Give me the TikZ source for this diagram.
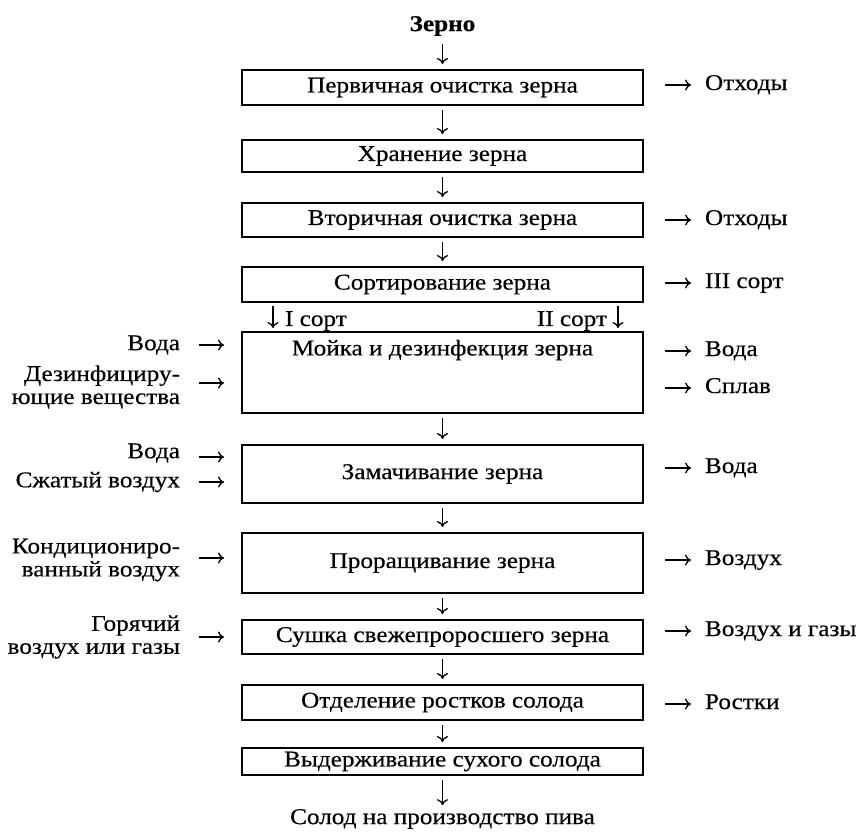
\documentclass[tikz,border=0pt]{standalone}
\usepackage{fontspec}
\setmainfont[FakeStretch=1.12, FakeBold=0.4]{Liberation Serif}
\usetikzlibrary{arrows.meta}
\begin{document}
\begin{tikzpicture}[x=1pt,y=-1pt,
  every node/.style={inner sep=0pt, outer sep=0pt},
  font=\fontsize{22.5}{23}\selectfont,
  box/.style={draw, line width=1.8pt, minimum width=401pt},
  flow/.style={line width=1.3pt, -{Computer Modern Rightarrow[length=6pt,width=11pt]}},
  down/.style={flow, shorten <=5pt, shorten >=6pt},
  outlbl/.style={anchor=west, text height=15pt, text depth=5pt},
  inlbl/.style={anchor=east, align=right},
]
\useasboundingbox (0,0) rectangle (856,831);

% main chain
\node[font=\fontsize{22.5}{23}\selectfont\bfseries] (zerno) at (442.5,26) {Зерно};
\node[box, minimum height=35pt] (b1) at (442.5,87.5) {Первичная очистка зерна};
\node[box, minimum height=32pt] (b2) at (442.5,156) {Хранение зерна};
\node[box, minimum height=34pt] (b3) at (442.5,220) {Вторичная очистка зерна};
\node[box, minimum height=35pt] (b4) at (442.5,284.5) {Сортирование зерна};
\node[box, minimum height=81pt] (b5) at (442.5,372.5) {};
\node (t5) at (442.5,350) {Мойка и дезинфекция зерна};
\node[box, minimum height=58pt] (b6) at (442.5,474) {Замачивание зерна};
\node[box, minimum height=60pt] (b7) at (442.5,563) {Проращивание зерна};
\node[box, minimum height=34pt] (b8) at (442.5,637) {Сушка свежепроросшего зерна};
\node[box, minimum height=35pt] (b9) at (442.5,702.5) {Отделение ростков солода};
\node[box, minimum height=27pt] (b10) at (442.5,761.5) {Выдерживание сухого солода};
\node (solod) at (442.5,819) {Солод на производство пива};

\draw[down, shorten <=8pt] (zerno) -- (b1);
\draw[down] (b1) -- (b2);
\draw[down] (b2) -- (b3);
\draw[down] (b3) -- (b4);
\draw[down] (b5) -- (b6);
\draw[down] (b6) -- (b7);
\draw[down] (b7) -- (b8);
\draw[down] (b8) -- (b9);
\draw[down] (b9) -- (b10);
\draw[down, shorten >=4pt] (b10) -- (solod);

% sorting branches
\coordinate (s1a) at (273,302);
\coordinate (s1b) at (273,332);
\coordinate (s2a) at (618,302);
\coordinate (s2b) at (618,332);
\draw[down, shorten <=4pt, shorten >=4pt] (s1a) -- (s1b);
\draw[down, shorten <=4pt, shorten >=4pt] (s2a) -- (s2b);
\node[anchor=west] (g1) at (285,321) {I сорт};
\node[anchor=east] (g2) at (607,321) {II сорт};

% outputs (right)
\node[outlbl] (o1) at (705,85) {Отходы};
\node[outlbl] (o2) at (705,220) {Отходы};
\node[outlbl] (o3) at (705,283) {III сорт};
\node[outlbl] (o4) at (705,351) {Вода};
\node[outlbl] (o5) at (705,388) {Сплав};
\node[outlbl] (o6) at (705,468) {Вода};
\node[outlbl] (o7) at (705,560) {Воздух};
\node[outlbl] (o8) at (705,631) {Воздух и газы};
\node[outlbl] (o9) at (705,704) {Ростки};
\foreach \o in {o1,o2,o3,o4,o5,o6,o7,o8,o9}
  \draw[flow] ([xshift=-40pt]\o.west) -- ([xshift=-14pt]\o.west);

% inputs (left)
\node[inlbl] (i1) at (180,345) {Вода};
\node[inlbl] (i2) at (180,387) {Дезинфициру-\\ющие вещества};
\node[inlbl] (i3) at (180,453) {Вода};
\node[inlbl] (i4) at (180,482) {Сжатый воздух};
\node[inlbl] (i5) at (180,560) {Кондициониро-\\ванный воздух};
\node[inlbl] (i6) at (180,637) {Горячий\\воздух или газы};

\foreach \n/\y in {1/345,2/383,3/457,4/482,5/558,6/637}{
  \coordinate (ia\n) at (199,\y);
  \coordinate (ib\n) at (224,\y);
  \draw[flow] (ia\n) -- (ib\n);
}
\end{tikzpicture}
\end{document}
